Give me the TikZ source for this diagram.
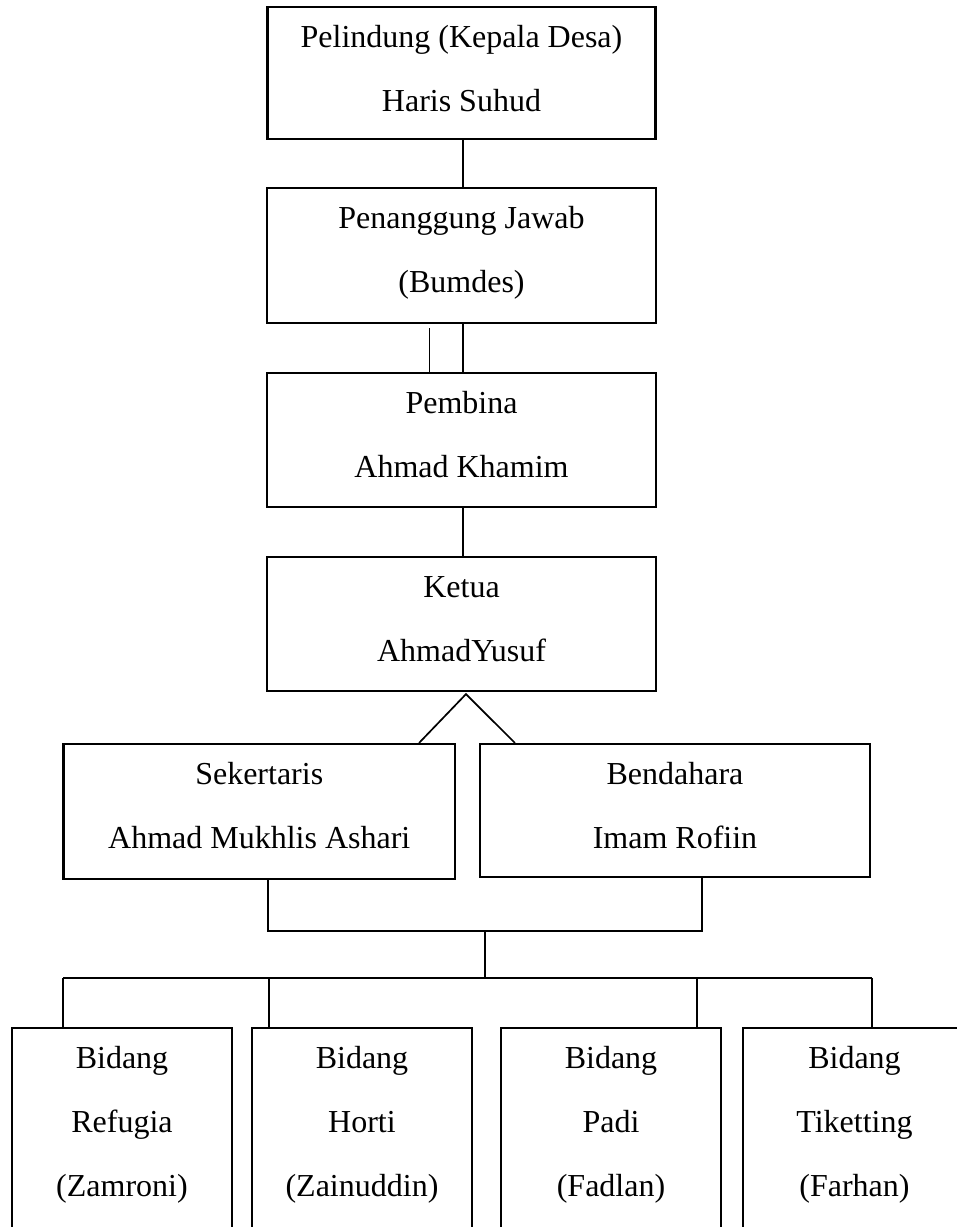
\documentclass[tikz,border=0pt]{standalone}
\usepackage{fontspec}
\setmainfont{Liberation Serif}
\tikzset{
  jabatan/.style={draw, line width=1.1pt, inner sep=0pt, align=center,
    font=\fontsize{16}{32}\selectfont, text height=52pt},
  bidang/.style={jabatan, minimum width=110pt, text height=84pt, text depth=52pt},
  garis/.style={line width=0.85pt}
}
\begin{document}
\begin{tikzpicture}[x=0.5pt, y=-0.5pt]
    \useasboundingbox (0,0) rectangle (957,1227);
    \clip (0,0) rectangle (957,1227);

    % pimpinan
    \node[jabatan, minimum width=194pt, text depth=14pt] (pel) at (461.5,73) {Pelindung (Kepala Desa)\\Haris Suhud};
    \node[jabatan, minimum width=194.5pt, text depth=15.5pt] (pj) at (461.5,255.5) {Penanggung Jawab\\(Bumdes)};
    \node[jabatan, minimum width=194.5pt, text depth=15pt] (pem) at (461.5,440) {Pembina\\Ahmad Khamim};
    \node[jabatan, minimum width=194.5pt, text depth=15pt] (ket) at (461.5,624) {Ketua\\AhmadYusuf};

    % sekertaris dan bendahara
    \node[jabatan, minimum width=195.75pt, text depth=15.5pt] (sek) at (259.25,811.5) {Sekertaris\\Ahmad Mukhlis Ashari};
    \node[jabatan, minimum width=195pt, text depth=14.5pt] (ben) at (675,810.5) {Bendahara\\Imam Rofiin};

    % bidang
    \node[bidang] (ref) at (122,1164) {Bidang\\Refugia\\(Zamroni)};
    \node[bidang] (hor) at (362,1164) {Bidang\\Horti\\(Zainuddin)};
    \node[bidang] (pad) at (611,1164) {Bidang\\Padi\\(Fadlan)};
    \node[bidang, minimum width=111.5pt] (tik) at (854.5,1164) {Bidang\\Tiketting\\(Farhan)};

    % garis
    \draw[garis] ([xshift=0.75pt]pel.south) -- ([xshift=0.75pt]pj.north);
    \draw[garis] ([xshift=-16pt,yshift=-2pt]pj.south) -- ([xshift=-16pt]pem.north);
    \draw[garis] ([xshift=0.75pt]pj.south) -- ([xshift=0.75pt]pem.north);
    \draw[garis] ([xshift=0.75pt]pem.south) -- ([xshift=0.75pt]ket.north);

    \coordinate (apex) at ([xshift=2.25pt,yshift=-1pt]ket.south);
    \draw[garis] ([xshift=-18.5pt]sek.north east) -- (apex) -- ([xshift=18pt]ben.north west);

    \coordinate (join) at (485,931);
    \coordinate (hub) at (485,978);
    \draw[garis] ([xshift=102.75pt]sek.south west) |- (join) -| ([xshift=-84.5pt]ben.south east);
    \draw[garis] (join) -- (hub);

    \coordinate (busL) at (63,978);
    \coordinate (busR) at (872,978);
    \draw[garis] (busL) -- (busR);
    \foreach \b/\x in {ref/63, hor/269, pad/697, tik/872} {
        \coordinate (tap\b) at (\x,978);
        \draw[garis] (tap\b) -- (\b.north -| tap\b);
    }
\end{tikzpicture}
\end{document}
